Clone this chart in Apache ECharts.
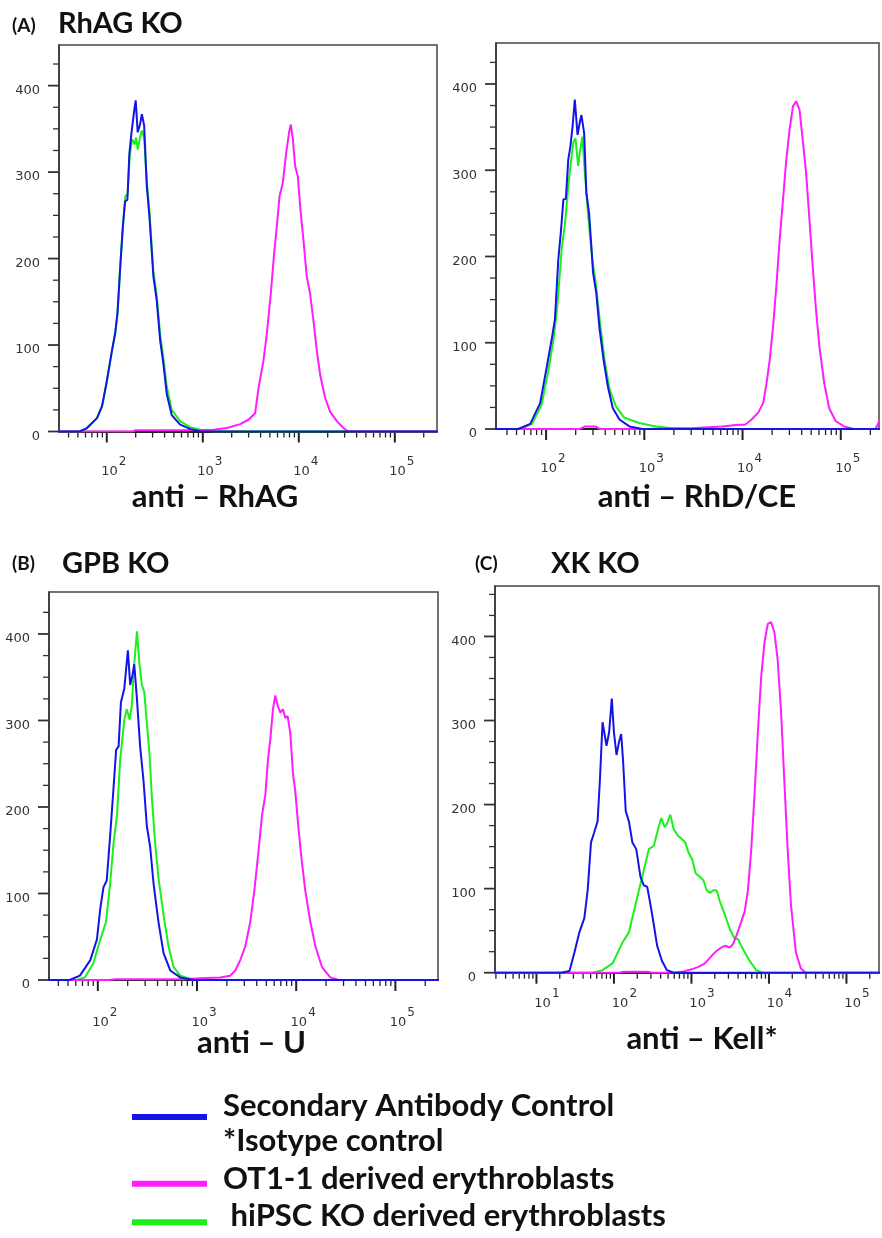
<!DOCTYPE html>
<html><head><meta charset="utf-8">
<script src="https://cdn.jsdelivr.net/npm/echarts@6/dist/echarts.min.js"></script>
<style>html,body{margin:0;padding:0;background:#fff}#c{width:882px;height:1238px}</style>
</head><body><div id="c"></div>
<script>
// ---- DATA: [fluorescence intensity, cell count] ----
const rhagBlue = [[20,0],[52,0],[62,4],[79,15.5],[89,29],[100,58],[113,93],[122,113],[129,136],[138,190],[147,237],[155,266],[164,268],[172,322],[182,348],[194,373],[200,383],[210,346],[222,355],[232,367],[245,354],[261,284],[278,249],[306,179],[331,152],[360,105],[389,78],[422,43],[475,19],[581,8],[738,3],[933,0],[400000,0]];
const rhagGreen = [[20,0],[54,0],[63,4],[80,16],[90,30],[101,60],[114,95],[123,115],[130,138],[139,195],[148,240],[156,272],[165,275],[173,318],[184,338],[195,332],[202,340],[210,326],[222,340],[232,348],[245,340],[261,290],[278,255],[306,185],[331,158],[360,112],[389,85],[422,52],[475,25],[581,12],[738,5],[933,2],[1300,0],[400000,0]];
const rhagMagenta = [[20,0],[185,0],[200,1.5],[600,1.5],[1291,2],[1778,4],[2449,8.5],[2992,13.6],[3508,21],[3802,50],[4285,82],[4645,113],[5105,159],[5534,206],[5902,237],[6295,272],[6808,287],[7379,322],[7925,346],[8260,355],[8670,338],[9162,307],[9772,295],[10330,260],[11190,221],[12110,179],[13120,159],[14220,128],[15420,93],[16670,66],[18790,39],[21180,23],[24890,12],[29170,4],[32890,0],[400000,0]];

const rhdBlue = [[20,0],[52,0],[69,6],[87,30],[102,73],[114,104],[123,127],[133,196],[141,227],[150,266],[159,267],[168,312],[177,328],[186,351],[196,382],[209,341],[220,355],[229,364],[244,343],[257,274],[274,250],[301,181],[324,158],[351,115],[385,80],[426,49],[478,24],[558,11],[705,3],[959,0],[400000,0]];
const rhdGreen = [[20,0],[55,0],[72,6],[90,28],[106,69],[119,104],[130,142],[144,208],[156,239],[168,281],[177,305],[189,332],[199,337],[212,305],[220,320],[234,339],[248,297],[267,250],[296,196],[320,169],[351,127],[394,80],[443,46],[516,26],[627,13],[889,7],[1309,3],[1928,1],[2838,0],[400000,0]];
const rhdMagenta = [[20,0],[220,0],[250,3],[320,3],[350,0],[1200,0],[1652,1],[3000,1],[6152,3],[9078,5],[10590,5],[12360,11],[14420,19],[16220,30],[17540,53],[18920,80],[20460,119],[22080,165],[23880,220],[25820,266],[27860,312],[30130,347],[32580,374],[35160,380],[38020,370],[41020,335],[44360,297],[47970,243],[51760,189],[55980,138],[60530,96],[67920,53],[76210,24],[89130,9],[108100,3],[136500,0],[225000,0],[260000,14]];

const gpbBlue = [[20,0],[52,0],[66,5],[84,23],[98,47],[106,83],[114,107],[123,115],[133,166],[144,222],[153,266],[162,270],[171,321],[185,337],[201,381],[212,341],[224,353],[233,365],[248,325],[267,270],[289,230],[312,178],[337,154],[365,111],[409,67],[460,31],[537,11],[678,3],[923,0],[400000,0]];
const gpbGreen = [[20,0],[61,0],[74,3],[90,19],[106,47],[121,67],[133,111],[144,158],[156,190],[168,254],[185,301],[196,313],[209,301],[220,317],[233,365],[248,403],[263,365],[278,341],[294,333],[312,297],[332,262],[351,210],[379,158],[409,118],[460,75],[516,39],[581,15],[678,5],[923,0],[400000,0]];
const gpbMagenta = [[20,0],[130,0],[150,1],[700,1],[1079,2],[1714,3],[2163,5],[2432,11],[2729,23],[3069,39],[3443,67],[3784,103],[4178,150],[4519,190],[4887,214],[5188,254],[5483,278],[5834,313],[6152,329],[6501,317],[6918,309],[7362,313],[7762,303],[8204,305],[8730,285],[9290,238],[9795,218],[10420,182],[11270,142],[12360,103],[13900,67],[15600,39],[18200,15],[22080,3],[26790,0],[400000,0]];

const kellBlue = [[2,0],[20.9,0],[26.7,2],[30.9,24],[35.8,48],[41.5,65],[45.8,98],[50.6,155],[55.7,167],[61.5,180],[65.9,229],[71.3,298],[74.8,300],[80.2,270],[86.7,286],[93.8,326],[100,286],[108,259],[116,274],[124,284],[131,253],[142,192],[156,180],[173,155],[194,147],[220,114],[243,104],[269,102],[296,81],[327,57],[361,32],[417,14],[483,3],[589,0],[400000,0]];
const kellGreen = [[2,0],[53,0],[71,3],[96,11],[129,36],[156,48],[181,73],[210,98],[243,122],[282,147],[327,151],[371,171],[409,184],[452,173],[483,177],[533,188],[589,171],[668,163],[752,159],[830,155],[916,143],[1030,134],[1135,118],[1291,114],[1426,110],[1570,98],[1734,95],[1910,98],[2109,98],[2328,85],[2698,69],[3126,52],[3622,40],[3990,40],[4624,28],[5636,14],[6855,3],[8337,0],[400000,0]];
const kellMagenta = [[2,0],[117,0],[130,1],[280,1],[310,0],[560,0],[752,1],[1009,4],[1230,7],[1496,11],[1820,20],[2109,26],[2443,30],[2698,32],[3126,30],[3443,34],[3802,44],[4406,61],[4864,73],[5358,98],[5916,147],[6516,212],[7194,286],[7943,352],[8750,393],[9661,415],[10670,417],[11750,405],[12970,372],[14320,311],[15780,229],[17420,147],[19230,81],[22280,24],[25820,5],[29850,0],[400000,0]];

// ---- TICK LABELS ----
const yTickLabels = [0, 100, 200, 300, 400];
const xTickPowersStd = [2, 3, 4, 5];
const xTickPowersKell = [1, 2, 3, 4, 5];

const panelTitles = ['RhAG KO', 'GPB KO', 'XK KO'];
const panelLetters = ['(A)', '(B)', '(C)'];
const axisNames = ['anti \u2013 RhAG', 'anti \u2013 RhD/CE', 'anti \u2013 U', 'anti \u2013 Kell*'];
const legendNames = ['Secondary Antibody Control', '*Isotype control', 'OT1-1 derived erythroblasts', ' hiPSC KO derived erythroblasts'];

// ---- STYLE ----
const BLUE = '#1414e6', MAGENTA = '#ff1cff', GREEN = '#1cf01c';

const panels = [
  {grid:{left:59, top:45, width:378, height:386.5}, xMin:31.8, xMax:275000, yMax:447, pow:xTickPowersStd, pad:14, margin:24, g:rhagGreen, m:rhagMagenta, b:rhagBlue},
  {grid:{left:496, top:43, width:385, height:386}, xMin:30.9, xMax:245000, yMax:447.5, pow:xTickPowersStd, pad:14, margin:24, g:rhdGreen, m:rhdMagenta, b:rhdBlue},
  {grid:{left:49, top:592, width:389, height:388}, xMin:32.2, xMax:269000, yMax:448.5, pow:xTickPowersStd, pad:14, margin:27, g:gpbGreen, m:gpbMagenta, b:gpbBlue},
  {grid:{left:495, top:586, width:386, height:386.7}, xMin:2.92, xMax:263000, yMax:460, pow:xTickPowersKell, pad:21, margin:15, g:kellGreen, m:kellMagenta, b:kellBlue}
];

function tickItems(p) {
  const items = [];
  for (let e = 0; e <= 6; e++) for (let k = 1; k <= 9; k++) {
    const v = k * Math.pow(10, e);
    if (v < p.xMin || v > p.xMax) continue;
    items.push({ax:'x', v:v, major:k === 1});
  }
  for (let v = 0; v <= p.yMax; v += 25) items.push({ax:'y', v:v, major:v % 100 === 0});
  return items;
}

const grids = [], xAxes = [], yAxes = [], series = [];
panels.forEach((p, i) => {
  grids.push(Object.assign({show:true, borderColor:'#444', borderWidth:1.5, backgroundColor:'transparent'}, p.grid));
  xAxes.push({
    type:'log', logBase:10, gridIndex:i, min:p.xMin, max:p.xMax,
    axisLine:{show:true, onZero:false, lineStyle:{color:'#222', width:2}},
    axisTick:{show:false}, splitLine:{show:false}, minorTick:{show:false},
    axisLabel:{
      interval:0, margin:p.margin, padding:[0,0,0,p.pad],
      formatter:(v) => {
        const e = Math.log10(v), r = Math.round(e);
        return (Math.abs(e - r) < 1e-6 && p.pow.includes(r)) ? '{b|10}{s|' + r + '}' : '';
      },
      rich:{
        b:{fontFamily:'DejaVu Sans', fontSize:13, color:'#333'},
        s:{fontFamily:'DejaVu Sans', fontSize:12, color:'#333', padding:[0,0,20,1]}
      }
    }
  });
  yAxes.push({
    type:'value', gridIndex:i, min:0, max:p.yMax, interval:100,
    axisLine:{show:true, lineStyle:{color:'#333', width:1.5}},
    axisTick:{show:false}, splitLine:{show:false},
    axisLabel:{
      margin:19,
      formatter:(v) => yTickLabels.includes(v) ? '{n|' + v + '}' : '',
      rich:{n:{fontFamily:'DejaVu Sans', fontSize:13, color:'#333', padding:[10,0,0,0]}}
    }
  });
  const items = tickItems(p);
  series.push({
    type:'custom', xAxisIndex:i, yAxisIndex:i, silent:true, clip:false, z:1,
    data: items.map(t => t.ax === 'x' ? [t.v, 0] : [p.xMin, t.v]),
    renderItem:(params, api) => {
      const t = items[params.dataIndex];
      const pt = api.coord([api.value(0), api.value(1)]);
      if (t.ax === 'x') {
        return {type:'line', shape:{x1:pt[0], y1:pt[1], x2:pt[0], y2:pt[1] + (t.major ? 11 : 6)},
                style:{stroke:'#222', lineWidth:t.major ? 2 : 1.3}};
      }
      return {type:'line', shape:{x1:pt[0] - (t.major ? 11 : 6), y1:pt[1], x2:pt[0], y2:pt[1]},
              style:{stroke:'#333', lineWidth:t.major ? 1.8 : 1.3}};
    }
  });
  [[p.g, GREEN], [p.m, MAGENTA], [p.b, BLUE]].forEach(([d, c]) => {
    series.push({type:'line', xAxisIndex:i, yAxisIndex:i, data:d, showSymbol:false, symbol:'none',
      silent:true, z:3, lineStyle:{color:c, width:2}, itemStyle:{color:c}});
  });
});

function txt(text, x, y, size, align) {
  return {type:'text', x:x, y:y, silent:true,
    style:{text:text, font:'bold ' + size + 'px Lato', fill:'#111',
      textAlign:align || 'left', align:align || 'left', textVerticalAlign:'middle', verticalAlign:'middle'}};
}
function leg(color, y) {
  return {type:'line', silent:true, shape:{x1:132, y1:y, x2:207, y2:y}, style:{stroke:color, lineWidth:6}};
}

const graphic = [
  txt(panelLetters[0], 12, 26, 19), txt(panelTitles[0], 58, 24, 29),
  txt(panelLetters[1], 12, 564, 19), txt(panelTitles[1], 62, 564, 29),
  txt(panelLetters[2], 475, 564, 19), txt(panelTitles[2], 551, 564, 29),
  txt(axisNames[0], 215, 497, 31, 'center'),
  txt(axisNames[1], 697, 497, 31, 'center'),
  txt(axisNames[2], 251.5, 1042.5, 31, 'center'),
  txt(axisNames[3], 702, 1038.5, 31, 'center'),
  leg(BLUE, 1117), leg(MAGENTA, 1183.7), leg(GREEN, 1222.2),
  txt(legendNames[0], 223, 1106, 31), txt(legendNames[1], 223, 1141, 31),
  txt(legendNames[2], 223, 1179, 31), txt(legendNames[3], 223, 1216, 31)
];

const chart = echarts.init(document.getElementById('c'), null, {renderer:'canvas'});
chart.setOption({
  animation:false, backgroundColor:'#fff',
  grid:grids, xAxis:xAxes, yAxis:yAxes, series:series, graphic:graphic
});
</script></body></html>
